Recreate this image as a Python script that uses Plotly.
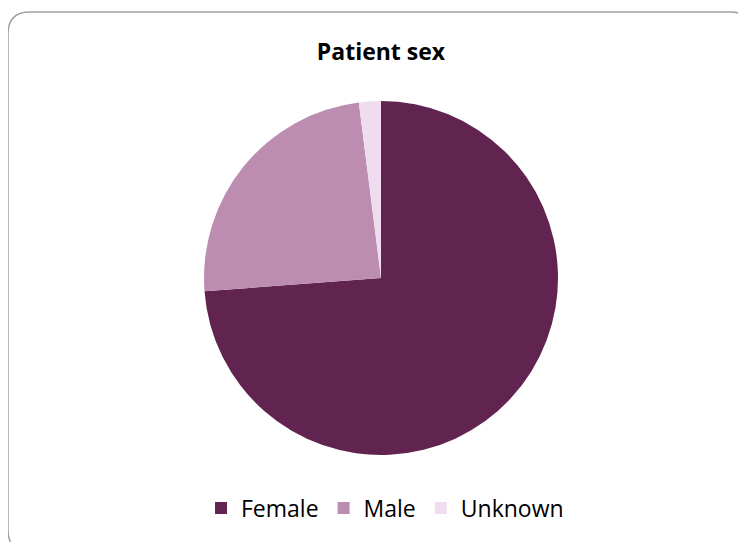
import plotly.graph_objects as go

labels = ["Female", "Male", "Unknown"]
values = [73.8, 24.2, 2.0]
colors = ["#612451", "#bd8cb1", "#efdcee"]

W, H = 746, 542
OFF = 8  # page body margin offset

def px(x):
    return (x - OFF) / W

def py(y):
    return 1 - (y - OFF) / H

fig = go.Figure(go.Pie(
    labels=labels, values=values, sort=False, direction="clockwise",
    rotation=0, marker=dict(colors=colors, line=dict(width=0)),
    textinfo="none", hoverinfo="label+percent",
    domain=dict(x=[px(204), px(558)], y=[py(455), py(101)]),
))

x0, y0, x1, y1, r = 8, 12, 752, 552, 22
path = (f"M {px(x0+r)},{py(y0)} L {px(x1-r)},{py(y0)} Q {px(x1)},{py(y0)} {px(x1)},{py(y0+r)} "
        f"L {px(x1)},{py(y1-r)} Q {px(x1)},{py(y1)} {px(x1-r)},{py(y1)} "
        f"L {px(x0+r)},{py(y1)} Q {px(x0)},{py(y1)} {px(x0)},{py(y1-r)} "
        f"L {px(x0)},{py(y0+r)} Q {px(x0)},{py(y0)} {px(x0+r)},{py(y0)} Z")

fig.update_layout(
    width=W, height=H,
    margin=dict(l=0, r=0, t=0, b=0),
    paper_bgcolor="white", plot_bgcolor="white",
    title=dict(text="<b>Patient sex</b>", x=px(381), xanchor="center",
               y=py(52), yanchor="middle",
               font=dict(family="Open Sans", size=23, color="#000000")),
    showlegend=True,
    legend=dict(orientation="h", x=px(385), xanchor="center", y=py(508), yanchor="middle",
                font=dict(family="Open Sans", size=23, color="#000000"),
                itemwidth=30, traceorder="normal"),
    shapes=[dict(type="path", path=path, xref="paper", yref="paper",
                 line=dict(color="#a0a0a0", width=1.5), fillcolor="rgba(0,0,0,0)")],
)

fig.write_html("out.html")
